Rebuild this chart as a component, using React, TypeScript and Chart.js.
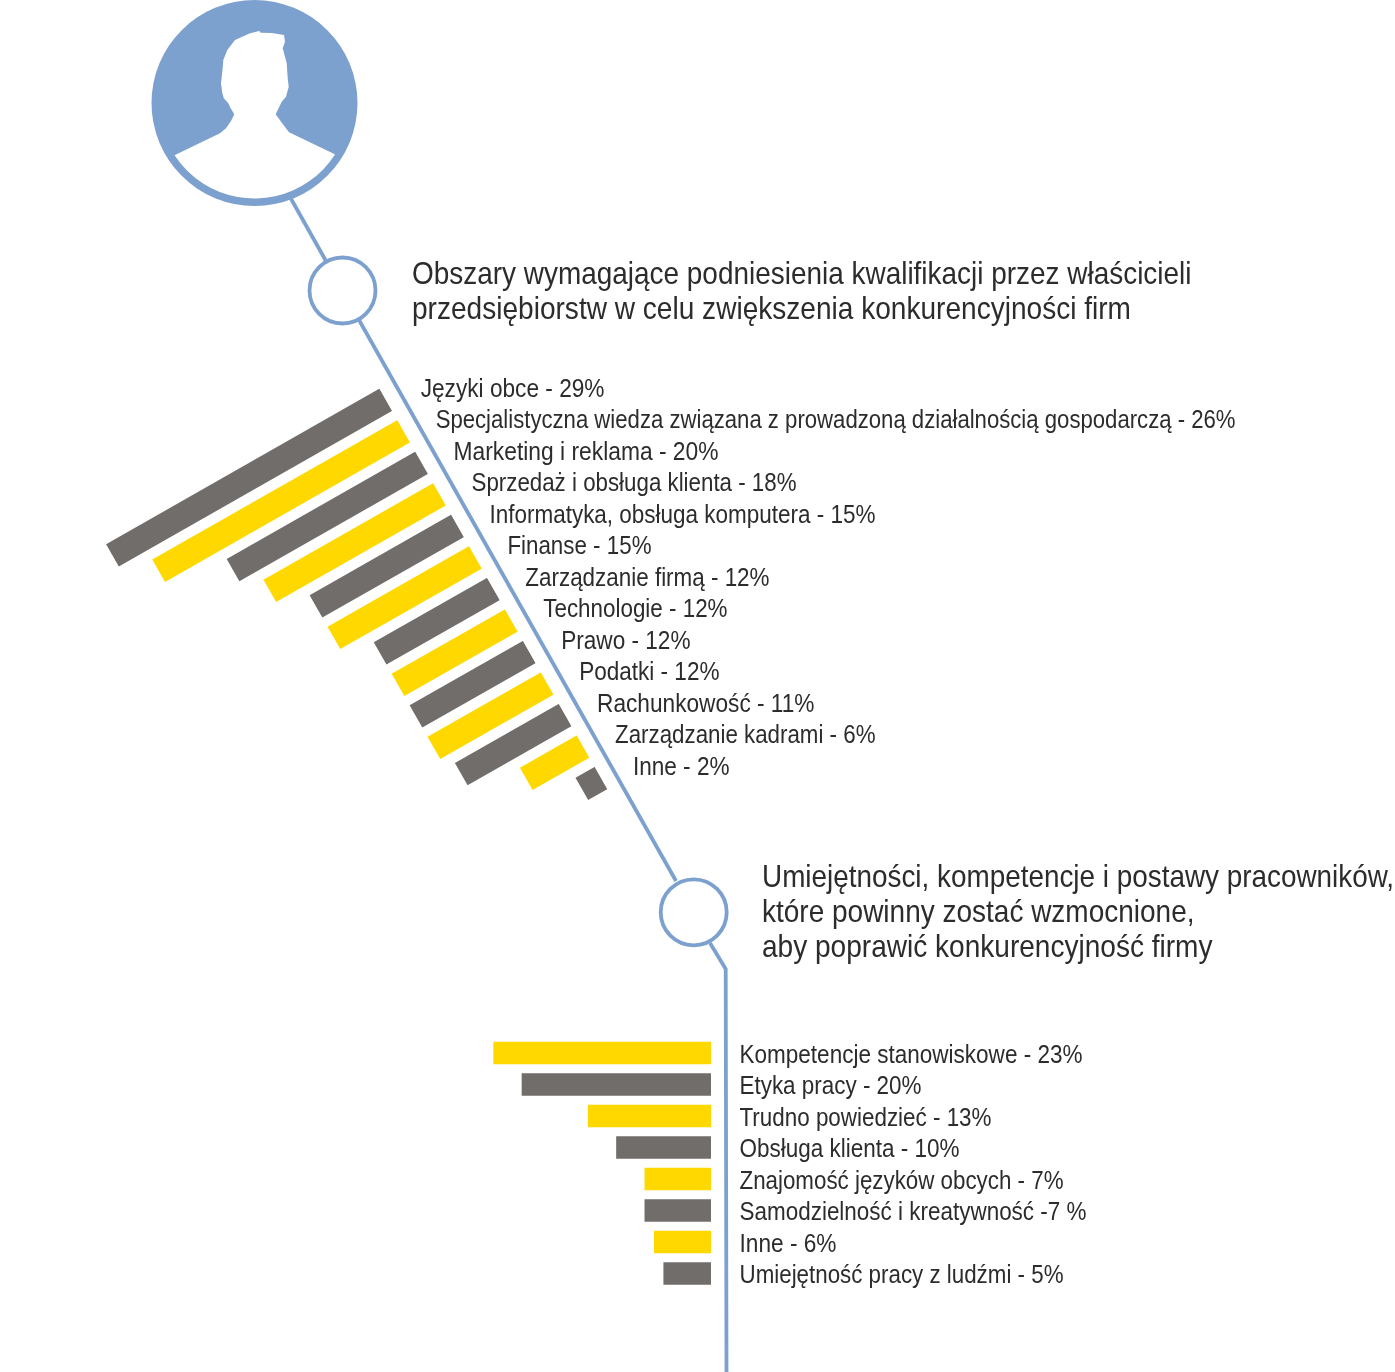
import React, { useEffect, useRef } from "react";
import { Chart, registerables } from "chart.js";

Chart.register(...registerables);

const skillLabels = [
  "Języki obce - 29%",
  "Specjalistyczna wiedza związana z prowadzoną działalnością gospodarczą - 26%",
  "Marketing i reklama - 20%",
  "Sprzedaż i obsługa klienta - 18%",
  "Informatyka, obsługa komputera - 15%",
  "Finanse - 15%",
  "Zarządzanie firmą - 12%",
  "Technologie - 12%",
  "Prawo - 12%",
  "Podatki - 12%",
  "Rachunkowość - 11%",
  "Zarządzanie kadrami - 6%",
  "Inne - 2%",
];
const skillValues = [29, 26, 20, 18, 15, 15, 12, 12, 12, 12, 11, 6, 2];

const staffLabels = [
  "Kompetencje stanowiskowe - 23%",
  "Etyka pracy - 20%",
  "Trudno powiedzieć - 13%",
  "Obsługa klienta - 10%",
  "Znajomość języków obcych - 7%",
  "Samodzielność i kreatywność -7 %",
  "Inne - 6%",
  "Umiejętność pracy z ludźmi - 5%",
];
const staffValues = [23, 20, 13, 10, 7, 7, 6, 5];

const skillTitle = [
  "Obszary wymagające podniesienia kwalifikacji przez właścicieli",
  "przedsiębiorstw w celu zwiększenia konkurencyjności firm",
];
const staffTitle = [
  "Umiejętności, kompetencje i postawy pracowników,",
  "które powinny zostać wzmocnione,",
  "aby poprawić konkurencyjność firmy",
];

// right-hand ends of the text lines, used to fit the substitute font to each line
const skillLabelEnds = [604.5, 1235.5, 718.5, 796.5, 875.5, 651.5, 769.5, 727.5, 690.5, 719.5, 814.5, 875.5, 729.5];
const staffLabelEnds = [1082.5, 921.5, 991.5, 959.5, 1063.5, 1086.5, 836.5, 1063.5];
const skillTitleEnds = [1191.5, 1131];
const staffTitleEnds = [1394, 1194.5, 1212.5];

const WIDTH = 1395;
const HEIGHT = 1372;
const BLUE = "#7da1cf";
const GREY = "#716d6b";
const YELLOW = "#ffd800";
const INK = "#2c2c2c";
const FONT = '"Liberation Sans", sans-serif';
const LABEL_PX = 25;
const TITLE_PX = 31.5;

const THETA = (29.64 * Math.PI) / 180;
const PIVOT = { x: 385.7, y: 399.8 };

const silhouette = [
  [220, 133.3], [226, 128.3], [231, 121], [234.3, 114.3], [230.5, 108], [228.3, 103.3], [223.8, 98.3],
  [222.3, 93], [221, 83.3], [222.5, 70], [223.3, 60], [227.3, 50], [235, 40], [250, 33.3], [259.3, 31],
  [260.7, 32.7], [271.7, 33], [284, 35], [285, 41.7], [282.7, 48.3], [286.7, 63.3],
  [287.7, 78.3], [288.7, 86.7], [286, 96.7], [281.7, 101.7], [275.7, 114.3],
  [282.7, 124], [289, 132.3], [334.3, 154],
];

function drawDecoration(ctx: CanvasRenderingContext2D) {
  ctx.save();
  ctx.strokeStyle = BLUE;
  ctx.lineWidth = 3.8;
  ctx.lineCap = "butt";
  ctx.lineJoin = "round";
  ctx.beginPath();
  ctx.moveTo(290, 197);
  ctx.lineTo(326, 261);
  ctx.moveTo(359, 320);
  ctx.lineTo(676, 881);
  ctx.moveTo(710, 943);
  ctx.lineTo(725.7, 969);
  ctx.lineTo(726.5, 1372);
  ctx.stroke();

  // avatar
  ctx.fillStyle = BLUE;
  ctx.beginPath();
  ctx.arc(254.5, 103, 103, 0, Math.PI * 2);
  ctx.fill();
  ctx.fillStyle = "#ffffff";
  ctx.beginPath();
  ctx.moveTo(175, 155);
  silhouette.forEach(([x, y]) => ctx.lineTo(x, y));
  const a0 = Math.atan2(154 - 103, 334.3 - 254.5);
  const a1 = Math.atan2(155 - 103, 175 - 254.5);
  ctx.arc(254.5, 103, 95.5, a0, a1);
  ctx.closePath();
  ctx.fill();

  // junction rings
  [[342.5, 290.5], [693.7, 912.3]].forEach(([x, y]) => {
    ctx.beginPath();
    ctx.arc(x, y, 33, 0, Math.PI * 2);
    ctx.fillStyle = "#ffffff";
    ctx.fill();
    ctx.stroke();
  });
  ctx.restore();
}

function putText(ctx: CanvasRenderingContext2D, text: string, x: number, y: number, px: number, endX: number) {
  ctx.save();
  ctx.font = `${px}px ${FONT}`;
  ctx.fillStyle = INK;
  ctx.textAlign = "left";
  ctx.textBaseline = "middle";
  const squeeze = (endX - x) / ctx.measureText(text).width;
  ctx.translate(x, y);
  ctx.scale(squeeze, 1);
  ctx.fillText(text, 0, 0);
  ctx.restore();
}

const skillPlugin = {
  id: "skillPlugin",
  beforeDraw(chart: any) {
    drawDecoration(chart.ctx);
  },
  beforeDatasetsDraw(chart: any) {
    const el = chart.getDatasetMeta(0).data[0];
    const ctx = chart.ctx;
    ctx.save();
    ctx.translate(PIVOT.x, PIVOT.y);
    ctx.rotate(-THETA);
    ctx.translate(-el.base, -el.y);
  },
  afterDatasetsDraw(chart: any) {
    chart.ctx.restore();
  },
  afterDraw(chart: any) {
    const ctx = chart.ctx;
    const els = chart.getDatasetMeta(0).data;
    const y0 = els[0].y;
    els.forEach((el: any, i: number) => {
      const d = el.y - y0;
      const px = PIVOT.x + d * Math.sin(THETA) + (i === 0 ? 35 : 32);
      const py = PIVOT.y + d * Math.cos(THETA) - 10;
      putText(ctx, skillLabels[i], px, py, LABEL_PX, skillLabelEnds[i]);
    });
    skillTitle.forEach((t, i) => putText(ctx, t, 412, 275 + i * 35.5, TITLE_PX, skillTitleEnds[i]));
  },
};

const staffPlugin = {
  id: "staffPlugin",
  afterDraw(chart: any) {
    const ctx = chart.ctx;
    const els = chart.getDatasetMeta(0).data;
    els.forEach((el: any, i: number) => {
      putText(ctx, staffLabels[i], el.base + 28.5, el.y + 3, LABEL_PX, staffLabelEnds[i]);
    });
    staffTitle.forEach((t, i) => putText(ctx, t, 762, 878 + i * 35.2, TITLE_PX, staffTitleEnds[i]));
  },
};

function barConfig(labels: string[], values: number[], colors: string[], max: number, padding: any, thickness: number, plugin: any) {
  return {
    type: "bar" as const,
    data: {
      labels,
      datasets: [{ data: values, backgroundColor: colors, barThickness: thickness, borderWidth: 0 }],
    },
    options: {
      indexAxis: "y" as const,
      responsive: false,
      animation: false as const,
      layout: { padding },
      plugins: { legend: { display: false }, tooltip: { enabled: false }, title: { display: false } },
      scales: {
        x: { type: "linear" as const, display: false, reverse: true, min: 0, max },
        y: { type: "category" as const, display: false },
      },
    },
    plugins: [plugin],
  };
}

export default function App() {
  const topRef = useRef<HTMLCanvasElement>(null);
  const bottomRef = useRef<HTMLCanvasElement>(null);

  useEffect(() => {
    const skillColors = skillValues.map((_, i) => (i % 2 === 0 ? GREY : YELLOW));
    const staffColors = staffValues.map((_, i) => (i % 2 === 0 ? YELLOW : GREY));
    // plot box: 35 units at 10.83 px, 13 rows at 36.27 px
    const top = new Chart(
      topRef.current!,
      barConfig(skillLabels, skillValues, skillColors, 35, { left: 10, right: WIDTH - 10 - 379.05, top: 380, bottom: HEIGHT - 380 - 471.51 }, 25, skillPlugin) as any
    );
    // plot box: 25 units at 9.45 px, 8 rows at 31.5 px
    const bottom = new Chart(
      bottomRef.current!,
      barConfig(staffLabels, staffValues, staffColors, 25, { left: 474.75, right: WIDTH - 711, top: 1037.25, bottom: HEIGHT - 1289.25 }, 22, staffPlugin) as any
    );
    return () => {
      top.destroy();
      bottom.destroy();
    };
  }, []);

  const canvasStyle: React.CSSProperties = { position: "absolute", left: 0, top: 0, display: "block" };
  return (
    <div style={{ position: "absolute", left: 0, top: 0, width: WIDTH, height: HEIGHT, overflow: "hidden", background: "#fff" }}>
      <canvas ref={topRef} width={WIDTH} height={HEIGHT} style={canvasStyle} />
      <canvas ref={bottomRef} width={WIDTH} height={HEIGHT} style={canvasStyle} />
    </div>
  );
}
